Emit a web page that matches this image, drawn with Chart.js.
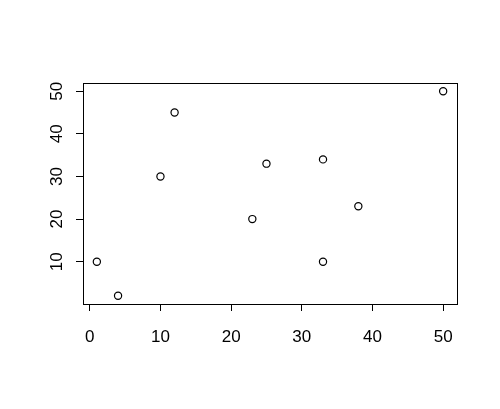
<!DOCTYPE html>
<html>
<head>
<meta charset="utf-8">
<script src="https://cdn.jsdelivr.net/npm/chart.js@4"></script>
<style>
  html, body { margin: 0; padding: 0; background: #fff; }
  #wrap { width: 500px; height: 409px; }
</style>
</head>
<body>
<div id="wrap"><canvas id="plot" width="500" height="409"></canvas></div>
<script>
const xValues = [1, 4, 10, 12, 23, 25, 33, 33, 38, 50];
const yValues = [10, 2, 30, 45, 20, 33, 34, 10, 23, 50];
const xTicks = [0, 10, 20, 30, 40, 50];
const yTicks = [10, 20, 30, 40, 50];

const FAMILY = '"Liberation Sans", Arial, sans-serif';
const FONT = '17px ' + FAMILY;

// R style: box around plot area + rotated y labels
const boxPlugin = {
  id: 'rbox',
  afterDraw(chart) {
    const ctx = chart.ctx;
    const a = chart.chartArea;
    ctx.save();
    ctx.strokeStyle = '#000';
    ctx.lineWidth = 1;
    ctx.strokeRect(Math.round(a.left) + 0.5, Math.round(a.top) + 0.5,
      Math.round(a.right - a.left), Math.round(a.bottom - a.top));
    const ys = chart.scales.y;
    ctx.fillStyle = '#000';
    ctx.font = FONT;
    ctx.textAlign = 'center';
    ctx.textBaseline = 'middle';
    yTicks.forEach(v => {
      const py = ys.getPixelForValue(v);
      ctx.save();
      ctx.translate(57, py);
      ctx.rotate(-Math.PI / 2);
      ctx.fillText(String(v), 0, 0);
      ctx.restore();
    });
    ctx.restore();
  }
};

const points = xValues.map((x, i) => ({ x: x, y: yValues[i] }));

new Chart(document.getElementById('plot').getContext('2d'), {
  type: 'scatter',
  data: {
    datasets: [{
      data: points,
      pointStyle: 'circle',
      pointRadius: 3.6,
      pointBorderWidth: 1.2,
      pointBorderColor: '#000',
      pointBackgroundColor: 'rgba(0,0,0,0)'
    }]
  },
  options: {
    responsive: false,
    animation: false,
    layout: { padding: { left: 0, right: 43, top: 83, bottom: 0 } },
    plugins: { legend: { display: false }, tooltip: { enabled: false } },
    scales: {
      x: {
        type: 'linear',
        min: -0.96,
        max: 51.96,
        afterBuildTicks: s => { s.ticks = xTicks.map(v => ({ value: v })); },
        afterFit: s => { s.height = 105; },
        border: { display: false },
        grid: { drawOnChartArea: false, drawTicks: true, tickLength: 7, color: '#000', tickColor: '#000' },
        ticks: { color: '#000', font: { family: FAMILY, size: 17 }, padding: 16, maxRotation: 0 }
      },
      y: {
        type: 'linear',
        min: 0.08,
        max: 51.92,
        afterBuildTicks: s => { s.ticks = yTicks.map(v => ({ value: v })); },
        afterFit: s => { s.width = 83; },
        border: { display: false },
        grid: { drawOnChartArea: false, drawTicks: true, tickLength: 7, color: '#000', tickColor: '#000' },
        ticks: { color: 'rgba(0,0,0,0)', font: { size: 16 } }
      }
    }
  },
  plugins: [boxPlugin]
});
</script>
</body>
</html>
